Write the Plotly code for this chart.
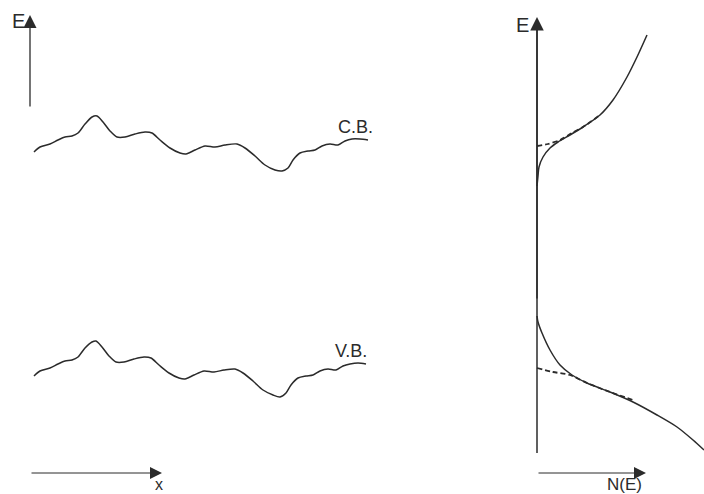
import plotly.graph_objects as go

# Left panel: conduction band edge vs position (pixel-like diagram units)
cb_x = [34, 40, 50, 58, 65, 72, 78, 85, 92, 97, 103, 110, 117, 125, 135, 145, 152, 160, 170, 180, 186,
        195, 205, 215, 225, 237, 245, 255, 265, 275, 282, 288, 293, 300, 308, 315, 322, 330, 338, 345,
        352, 360, 368]
cb_y = [152, 147, 144, 140, 137, 136, 133, 124, 117, 116, 122, 131, 137, 137, 134, 132, 133, 140, 148,
        153, 154, 150, 146, 147, 145, 144, 148, 156, 165, 170, 171, 168, 160, 153, 151, 150, 146, 144,
        145, 141, 139, 139, 140]

# Valence band edge vs position
vb_x = [34, 40, 50, 58, 65, 72, 78, 85, 92, 96, 102, 109, 116, 124, 134, 144, 151, 159, 169, 179, 185,
        194, 204, 214, 224, 235, 243, 253, 263, 273, 280, 286, 291, 298, 306, 313, 320, 328, 336, 343,
        350, 358, 366]
vb_y = [376, 371, 368, 364, 361, 360, 357, 348, 342, 341, 347, 356, 362, 362, 359, 357, 358, 365, 373,
        378, 379, 375, 371, 372, 370, 369, 373, 381, 390, 395, 397, 393, 385, 378, 376, 375, 371, 369,
        370, 366, 364, 363, 364]

# Right panel: density of states N(E)
dos_cb_x = [537, 538, 539, 543, 550, 558, 570, 583, 600, 613, 627, 637, 647]
dos_cb_y = [186, 176, 167, 157, 148, 142, 135, 127, 115, 100, 77, 57, 35]
dos_cb_dash_x = [537, 548, 560, 572, 583, 600]
dos_cb_dash_y = [146, 144, 140, 133, 127, 115]

dos_vb_x = [537, 538, 542, 550, 560, 572, 587, 610, 633, 657, 677, 693, 704]
dos_vb_y = [316, 322, 333, 350, 365, 375, 383, 392, 402, 415, 427, 440, 450]
dos_vb_dash_x = [537, 553, 570, 587, 610, 633]
dos_vb_dash_y = [368, 372, 375, 383, 392, 400]

labels = ["C.B.", "V.B.", "E", "E", "x", "N(E)"]

INK = "#2b2b2b"
FONT = "Liberation Sans, Arial, sans-serif"

fig = go.Figure()

def curve(x, y, dash="solid", width=1.5):
    fig.add_trace(go.Scatter(x=x, y=y, mode="lines", line=dict(color=INK, width=width, dash=dash,
                                                                 shape="spline", smoothing=0.8),
                             hoverinfo="skip", showlegend=False))

curve(cb_x, cb_y)
curve(vb_x, vb_y)
curve(dos_cb_x, dos_cb_y)
curve(dos_vb_x, dos_vb_y)
curve(dos_cb_dash_x, dos_cb_dash_y, dash="5px,3px", width=1.8)
curve(dos_vb_dash_x, dos_vb_dash_y, dash="5px,3px", width=1.8)

# right vertical axis line (below arrow)
fig.add_trace(go.Scatter(x=[537, 537], y=[453, 30], mode="lines", line=dict(color=INK, width=1.5),
                         hoverinfo="skip", showlegend=False))

def arrow(x0, y0, x1, y1, width=1.2, size=1.9):
    fig.add_annotation(x=x1, y=y1, ax=x0, ay=y0, xref="x", yref="y", axref="x", ayref="y",
                       showarrow=True, arrowhead=2, arrowsize=size, arrowwidth=width,
                       arrowcolor=INK, text="")

arrow(30, 108, 30, 15, 1.3, 2.0)
arrow(537, 300, 537, 17, 1.5, 1.8)
arrow(30, 473, 162, 473, 1.0, 2.4)
arrow(537, 473, 646, 473, 1.0, 2.4)

def label(x, y, t, size=18):
    fig.add_annotation(x=x, y=y, xref="x", yref="y", text=t, showarrow=False,
                       font=dict(family=FONT, size=size, color=INK), xanchor="center", yanchor="middle")

label(355, 127, labels[0])
label(351, 351, labels[1])
label(18, 21, labels[2], 20)
label(522, 25, labels[3], 20)
label(159, 484, labels[4], 16)
label(624, 484, labels[5], 17)

fig.update_layout(
    width=704, height=494, margin=dict(l=0, r=0, t=0, b=0),
    paper_bgcolor="white", plot_bgcolor="white",
    xaxis=dict(range=[0, 704], visible=False, fixedrange=True),
    yaxis=dict(range=[494, 0], visible=False, fixedrange=True),
)

fig.write_html("out.html")
